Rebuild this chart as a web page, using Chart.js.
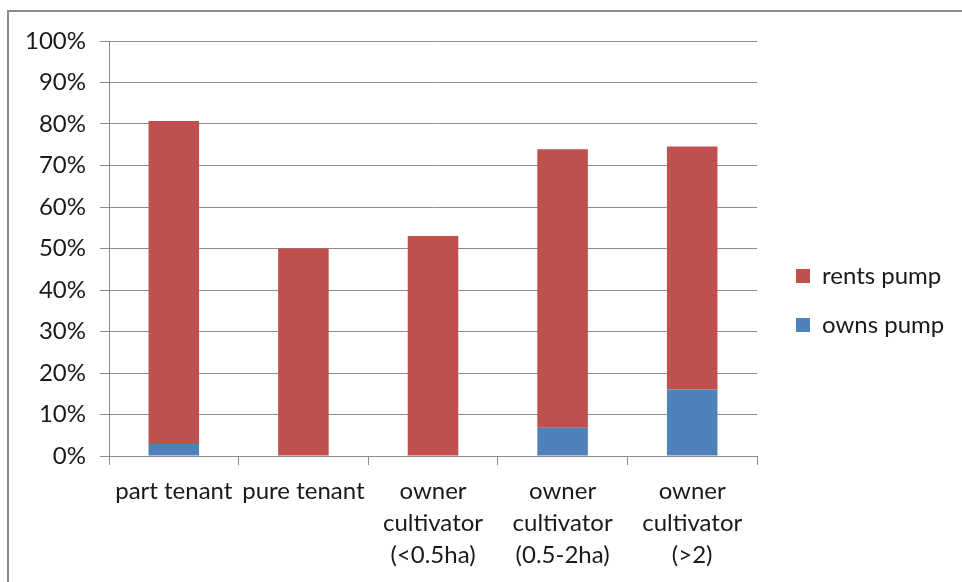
<!DOCTYPE html>
<html>
<head>
<meta charset="utf-8">
<script src="https://cdn.jsdelivr.net/npm/chart.js@4/dist/chart.umd.min.js"></script>
<style>
  html, body { margin: 0; padding: 0; background: #fff; overflow: hidden; }
  #wrap { position: relative; width: 962px; height: 582px; overflow: hidden; }
  #frame { position: absolute; left: 7px; top: 10px; width: 1100px; height: 800px; border: 2px solid #8a8a8a; box-sizing: border-box; }
  canvas { position: absolute; left: 0; top: 0; }
</style>
</head>
<body>
<div id="wrap">
  <div id="frame"></div>
  <canvas id="c" width="962" height="582"></canvas>
</div>
<script>
const categories = [
  'part tenant',
  'pure tenant',
  ['owner', 'cultivator', '(<0.5ha)'],
  ['owner', 'cultivator', '(0.5-2ha)'],
  ['owner', 'cultivator', '(>2)']
];
const ownsPump = [2.9, 0, 0, 6.8, 16.0];
const rentsPump = [77.8, 50, 53, 67.1, 58.6];
const seriesNames = ['owns pump', 'rents pump'];
const yTicks = [0, 10, 20, 30, 40, 50, 60, 70, 80, 90, 100];

const FONT = 'Lato';
const FS = 24;
const GRID = '#8c8c8c';
const TEXT = '#1a1a1a';

// legend geometry
const legendPad = 25, legendBox = 14;
const mctx = document.createElement('canvas').getContext('2d');
mctx.font = FS + 'px ' + FONT;
const maxTextW = Math.max(...seriesNames.map(s => mctx.measureText(s).width));
const legendW = legendPad + legendBox + FS / 2 + maxTextW + 10;
const plotRight = 757;
const padRight = Math.max(0, 962 - plotRight - legendW);

const legendShift = {
  id: 'legendShift',
  afterLayout(chart) {
    const l = chart.legend;
    if (l) { l.left += 14; l.right += 14; l.top -= 11; l.bottom -= 11; }
  }
};

new Chart(document.getElementById('c'), {
  type: 'bar',
  data: {
    labels: categories,
    datasets: [
      { label: seriesNames[0], data: ownsPump, backgroundColor: '#4F81BD', stack: 's' },
      { label: seriesNames[1], data: rentsPump, backgroundColor: '#C0504D', stack: 's' }
    ]
  },
  options: {
    responsive: false,
    animation: false,
    devicePixelRatio: 1,
    layout: { padding: { left: 0, top: 41, bottom: 0, right: padRight } },
    datasets: { bar: { categoryPercentage: 1, barPercentage: 0.39 } },
    scales: {
      x: {
        stacked: true,
        grid: { display: true, drawOnChartArea: false, drawTicks: true, tickLength: 9, color: GRID, lineWidth: 1, offset: true },
        border: { display: true, color: GRID, width: 1 },
        ticks: { color: TEXT, font: { family: FONT, size: FS, lineHeight: 32 / FS }, padding: 10, maxRotation: 0, minRotation: 0, autoSkip: false },
        afterFit(s) { s.height = 126; }
      },
      y: {
        stacked: true,
        min: 0, max: 100,
        afterBuildTicks(s) { s.ticks = yTicks.map(v => ({ value: v })); },
        grid: { color: GRID, lineWidth: 1, tickLength: 9, drawTicks: true },
        border: { display: true, color: GRID, width: 1 },
        ticks: { color: TEXT, font: { family: FONT, size: FS }, padding: 14, callback: v => v + '%' },
        afterFit(s) { s.width = 109; }
      }
    },
    plugins: {
      legend: {
        position: 'right',
        reverse: true,
        labels: { boxWidth: legendBox, boxHeight: legendBox, padding: legendPad, color: TEXT, font: { family: FONT, size: FS } }
      },
      tooltip: { enabled: false }
    }
  },
  plugins: [legendShift]
});
</script>
</body>
</html>
